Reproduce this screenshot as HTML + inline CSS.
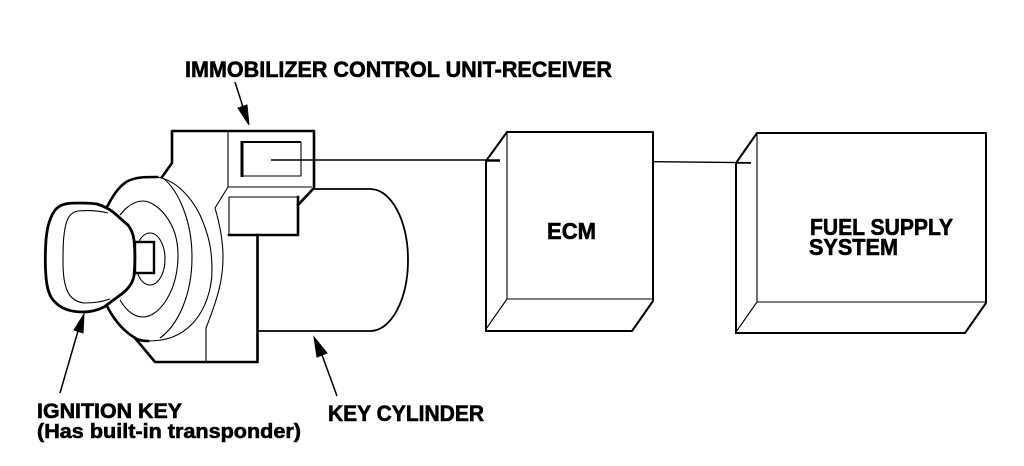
<!DOCTYPE html>
<html>
<head>
<meta charset="utf-8">
<style>
html,body{margin:0;padding:0;background:#fff;width:1024px;height:466px;overflow:hidden}
svg{display:block}
text{font-family:"Liberation Sans",sans-serif;font-weight:bold;fill:#000;stroke:#000;stroke-width:.6}
.k{fill:none;stroke:#000;stroke-width:2.6;stroke-linejoin:round;stroke-linecap:square}
.m{fill:none;stroke:#000;stroke-width:1.8;stroke-linejoin:round}
.t{fill:none;stroke:#000;stroke-width:1.1;stroke-linejoin:round}
</style>
</head>
<body>
<svg width="1024" height="466" viewBox="0 0 1024 466" xmlns="http://www.w3.org/2000/svg">
<!-- cylinder -->
<path class="m" d="M313 189H370C392 189 408 222 408 260C408 298 392 331 370 331H258"/>
<!-- body thin lines -->
<path class="t" d="M228 131V187L215 208C220 225 223 240 223 257C223 278 219 295 206 328V362"/>
<path class="t" d="M228 187H312"/>
<!-- body thick -->
<path class="k" d="M162 177L172 163V131H314V188L298 205"/>
<path class="k" d="M135 338L155 362H257.500V235"/>
<!-- lower rect -->
<path class="t" d="M229 235V197H298"/>
<path class="k" d="M298 197V235H229"/>
<!-- receiver rect -->
<path class="t" d="M243 176H301V142H243"/>
<path d="M241.500 142H301" stroke="#000" stroke-width="2" fill="none"/>
<path d="M242 141V177" stroke="#000" stroke-width="3" fill="none"/>
<!-- connector to ECM -->
<path d="M271 160H500" stroke="#000" stroke-width="1.500" fill="none"/>
<!-- rings -->
<path class="k" d="M107 207C113 195 120 185 128 181C136 177 145 177 157 177"/>
<path class="t" d="M157 177C175 180 190 195 200 215C209 235 212 250 212 270C212 290 205 310 193 323C180 337 165 341 148 341"/>
<path class="k" d="M107 306C113 318 122 330 135 338C140 341 145 341 148 341"/>
<path class="t" d="M163 178C178 190 192 220 192 257C192 295 178 325 160 338"/>
<path class="t" d="M120 215C127 206 135 201 143 201C155 201 178 220 178 255C178 290 160 317 143 317C134 317 126 310 120 300"/>
<ellipse class="t" cx="150" cy="259" rx="15" ry="26"/>
<!-- key stem -->
<rect x="135" y="242" width="19" height="31" fill="#fff" stroke="#000" stroke-width="2.400"/>
<!-- key -->
<path d="M80 203C70 203 62 203 56 209C50 216 47 228 46 240C45 255 45 266 46 277C47 288 49 296 54 301C60 308 70 312 83 312C92 312 98 310 104 307L123 293C129 288 133 282 134 276C135 265 135 250 134 240C133 232 130 228 128 225C122 220 118 216 113 212C108 208 103 206 97 204C90 203 85 203 80 203Z" fill="#fff" stroke="#000" stroke-width="2.800"/>
<path class="t" d="M108 213C100 211 90 210 78 211C72 212 68 216 66 224C63 235 63 250 63 262C63 275 64 283 67 290C70 298 76 302 84 303C92 303 102 302 110 299"/>
<!-- ECM box -->
<path class="t" d="M507 132V299H652M507 299L486 329"/>
<path class="k" style="stroke-width:2" d="M486 329V161L507 132H653V301L632 331H486"/>
<path d="M654 161.700L751 162.700" stroke="#000" stroke-width="1.300" fill="none"/>
<path d="M486 161H500" stroke="#000" stroke-width="1.500"/>
<!-- Fuel box -->
<path class="t" d="M757 133V302H985M757 302L736 332"/>
<path class="k" style="stroke-width:2" d="M736 332V163L757 133H986V303L965 333H736"/>
<path d="M736 163H751" stroke="#000" stroke-width="1.500"/>
<!-- arrows -->
<path d="M235 82L243 107" stroke="#000" stroke-width="1.500"/>
<path d="M249 125L238 108L247 105Z" fill="#000" stroke="#000"/>
<path d="M337 396L322 355" stroke="#000" stroke-width="1.500"/>
<path d="M314 337L317 357L327 353Z" fill="#000" stroke="#000"/>
<path d="M60 393L78 331" stroke="#000" stroke-width="1.500"/>
<path d="M84 314L74 330L83 333Z" fill="#000" stroke="#000"/>
<!-- labels -->
<text x="185" y="77" font-size="22.500" textLength="427" lengthAdjust="spacingAndGlyphs">IMMOBILIZER CONTROL UNIT-RECEIVER</text>
<text x="37" y="418" font-size="21" textLength="145" lengthAdjust="spacingAndGlyphs">IGNITION KEY</text>
<text x="37" y="438" font-size="20.500" textLength="264" lengthAdjust="spacingAndGlyphs">(Has built-in transponder)</text>
<text x="328" y="421" font-size="22" textLength="156" lengthAdjust="spacingAndGlyphs">KEY CYLINDER</text>
<text x="547" y="239" font-size="23.500" textLength="49" lengthAdjust="spacingAndGlyphs">ECM</text>
<text x="810" y="235" font-size="23" textLength="143" lengthAdjust="spacingAndGlyphs">FUEL SUPPLY</text>
<text x="809" y="255" font-size="23" textLength="89" lengthAdjust="spacingAndGlyphs">SYSTEM</text>
</svg>
</body>
</html>
